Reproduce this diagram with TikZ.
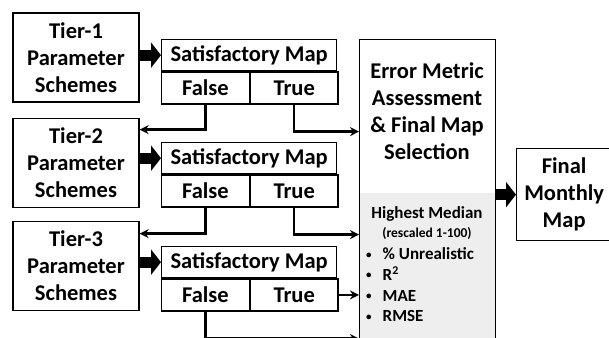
\documentclass[tikz,border=0pt]{standalone}
\usepackage{fontspec}
\setmainfont{Carlito}
\usepackage{xcolor}
\usetikzlibrary{calc, arrows.meta, positioning}
\definecolor{metricgray}{HTML}{EEEEEE}
\newcommand{\metricdot}{\raisebox{1.5pt}{\fontsize{11}{11}\selectfont\textbullet}}
\tikzset{
  tierbox/.style={draw, line width=1.3pt, minimum width=126pt, minimum height=89pt, align=center, inner sep=0pt},
  headcell/.style={draw, line width=1.3pt, minimum width=175pt, minimum height=31pt, inner sep=0pt},
  cell/.style={draw, line width=1.3pt, minimum width=87.5pt, minimum height=32pt, inner sep=0pt},
  blockarrow/.style={line width=11pt, -{Triangle[length=10pt, width=25pt]}},
  flowarrow/.style={line width=2.3pt, -{Stealth[length=9pt, width=9pt]}}
}

\begin{document}
\begin{tikzpicture}[x=1pt, y=-1pt, font=\fontsize{22.5}{27}\selectfont\bfseries]
  \useasboundingbox (0,0) rectangle (609,337);
  \clip (0,0) rectangle (609,337);
  % tier inputs
  \node[tierbox] (tier1) at (76,57.5) {Tier-1\\Parameter\\Schemes};
  \node[tierbox, below=15pt of tier1] (tier2) {Tier-2\\Parameter\\Schemes};
  \node[tierbox, below=13pt of tier2] (tier3) {Tier-3\\Parameter\\Schemes};
  % satisfactory map tests
  \node[headcell, anchor=north west] (map1) at (161,39) {Satisfactory Map};
  \node[cell, anchor=north west] (false1) at (map1.south west) {False};
  \node[cell, anchor=north west] (true1) at (false1.north east) {True};
  \node[headcell, anchor=north west] (map2) at (161,142) {Satisfactory Map};
  \node[cell, anchor=north west] (false2) at (map2.south west) {False};
  \node[cell, anchor=north west] (true2) at (false2.north east) {True};
  \node[headcell, anchor=north west] (map3) at (161,246) {Satisfactory Map};
  \node[cell, anchor=north west] (false3) at (map3.south west) {False};
  \node[cell, anchor=north west] (true3) at (false3.north east) {True};
  % error metric box
  \fill[metricgray] (359,193) rectangle (495,345);
  \node[draw, line width=1.3pt, minimum width=136pt, minimum height=306pt, anchor=north west] (err) at (359,39) {};
  \node[align=center] (errtitle) at (427,111) {Error Metric\\Assessment\\\& Final Map\\Selection};
  \node[align=center, font=\fontsize{17}{19}\selectfont\bfseries] (median) at (427,223)
    {Highest Median\\{\fontsize{13.5}{15}\selectfont(rescaled 1-100)}};
  \node[anchor=north west, inner sep=0pt, font=\fontsize{17}{20.7}\selectfont\bfseries] (metrics) at (366,245)
    {\begin{tabular}{@{}l@{\hspace{11pt}}l@{}}
      \metricdot & \% Unrealistic\\
      \metricdot & R\textsuperscript{2}\\
      \metricdot & MAE\\
      \metricdot & RMSE
    \end{tabular}};
  % final output
  \node[draw, line width=1.3pt, minimum width=95pt, minimum height=92pt, align=center, anchor=north west] (final) at (516,148) {Final\\Monthly\\Map};
  % block arrows
  \draw[blockarrow] (tier1.east |- map1.west) -- (map1.west);
  \draw[blockarrow] (tier2.east |- map2.west) -- (map2.west);
  \draw[blockarrow] (tier3.east |- map3.west) -- (map3.west);
  \draw[blockarrow] (err.east |- final.west) -- (final.west);
  % false branches
  \coordinate (fbend1) at ($(false1.south)+(0,25)$);
  \coordinate (fbend2) at ($(false2.south)+(0,26)$);
  \coordinate (fbend3) at ($(false3.south)+(0,27)$);
  \draw[flowarrow] (false1.south) -- (fbend1) -- (fbend1 -| tier2.east);
  \draw[flowarrow] (false2.south) -- (fbend2) -- (fbend2 -| tier3.east);
  \draw[flowarrow] (false3.south) -- (fbend3) -- (fbend3 -| err.west);
  % true branches
  \coordinate (tbend1) at ($(true1.south)+(0,27)$);
  \coordinate (tbend2) at ($(true2.south)+(0,27)$);
  \draw[flowarrow] (true1.south) -- (tbend1) -- (tbend1 -| err.west);
  \draw[flowarrow] (true2.south) -- (tbend2) -- (tbend2 -| err.west);
  \draw[flowarrow] (true3.east) -- (true3 -| err.west);
\end{tikzpicture}
\end{document}
